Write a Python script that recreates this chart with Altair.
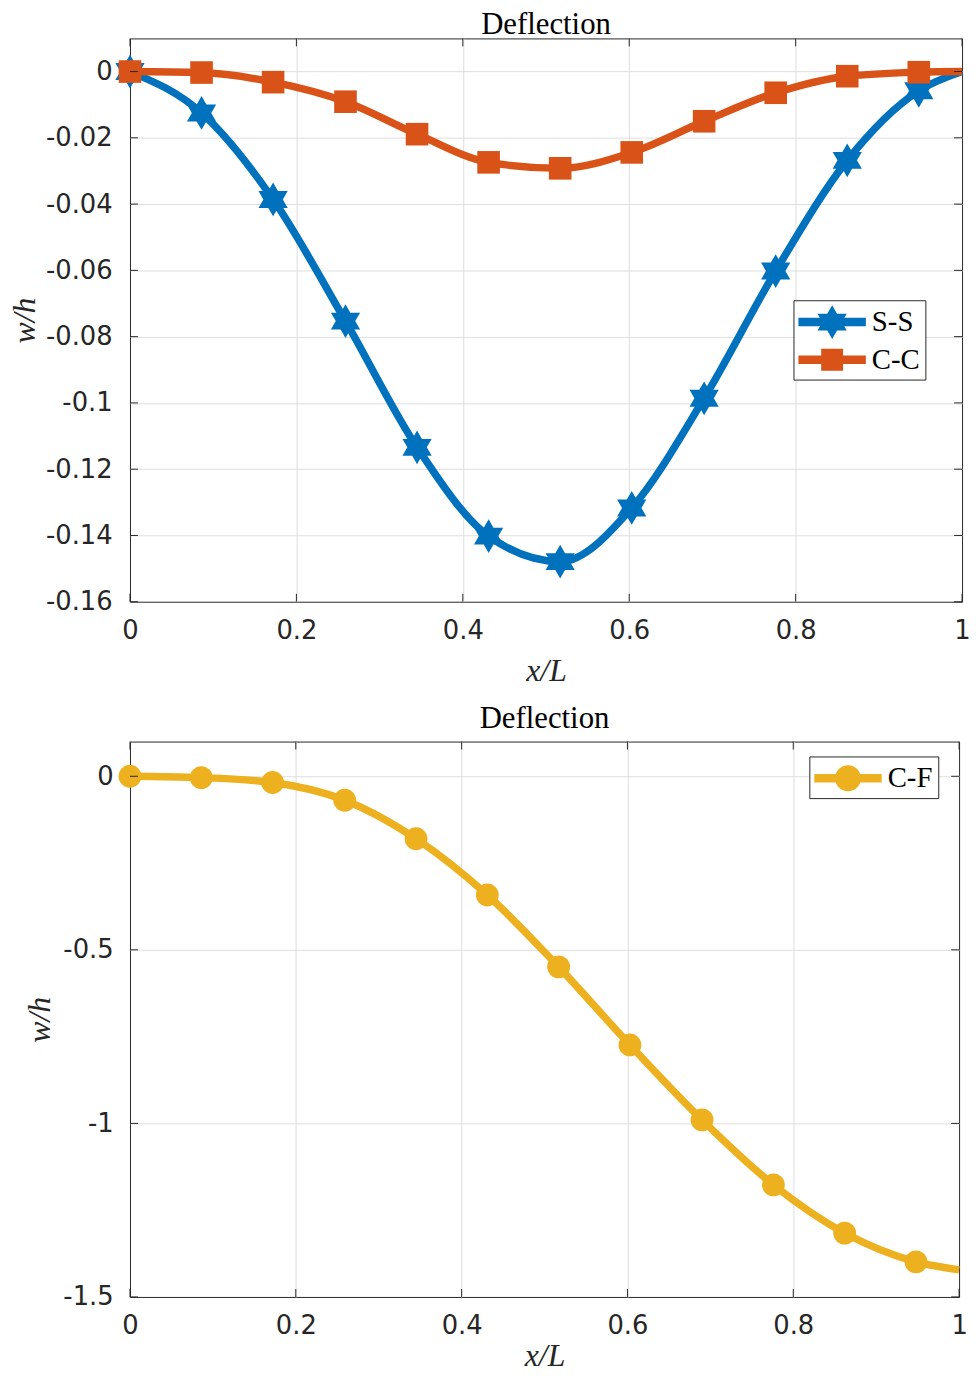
import altair as alt
import pandas as pd

BLUE = "#0072BD"
ORANGE = "#D95319"
YELLOW = "#EDB120"
AXC = "#262626"
GRID = "#dedede"

# ---- data ----
x_markers = [0.0, 0.086, 0.172, 0.259, 0.345, 0.431, 0.517, 0.603, 0.690, 0.776, 0.862, 0.948]
x_end = 1.0

ss_values = [0.0, -0.0125, -0.0386, -0.0753, -0.1134, -0.1402, -0.1479, -0.1317, -0.0986, -0.0602, -0.0268, -0.0058]
ss_end = 0.0
cc_values = [0.0, -0.0003, -0.0032, -0.0091, -0.0189, -0.0274, -0.0292, -0.0244, -0.0150, -0.0064, -0.0014, -0.0002]
cc_end = 0.0
cf_values = [0.0, -0.004, -0.018, -0.069, -0.180, -0.342, -0.549, -0.774, -0.990, -1.177, -1.316, -1.399]
cf_end = -1.422

x_ticks = [0, 0.2, 0.4, 0.6, 0.8, 1]
y_ticks_top = [-0.16, -0.14, -0.12, -0.1, -0.08, -0.06, -0.04, -0.02, 0]
y_ticks_bot = [-1.5, -1, -0.5, 0]

# ---- marker shapes (unit paths) ----
HEX = ("M0,-1L0.2887,-0.5L0.866,-0.5L0.5774,0L0.866,0.5L0.2887,0.5L0,1"
       "L-0.2887,0.5L-0.866,0.5L-0.5774,0L-0.866,-0.5L-0.2887,-0.5Z")
# legend symbols: unit = 17px, line spans -2..2
BAR = "M-2,-0.25L2,-0.25L2,0.25L-2,0.25Z"
LEG_HEX = BAR + HEX
LEG_SQ = BAR + "M-0.65,-0.65L0.65,-0.65L0.65,0.65L-0.65,0.65Z"
LEG_CIRC = BAR + "M-0.77,0A0.77,0.77 0 1,1 0.77,0A0.77,0.77 0 1,1 -0.77,0Z"


def series_df(name, values, end):
    return pd.DataFrame({"series": name, "x": x_markers + [x_end], "w": values + [end]})


def marker_df(name, values):
    return pd.DataFrame({"series": name, "x": x_markers, "w": values})


def main_axis(orient, values, title, label_pad, title_pad, hide_test):
    return alt.Axis(
        orient=orient, values=values, labelExpr="'' + datum.value",
        labelFont="DejaVu Sans", labelFontSize=26, labelColor=AXC,
        labelPadding=label_pad, labelFlush=False, labelOverlap=False,
        ticks=False, tickSize=0, domain=False,
        grid=True, gridColor=GRID, gridWidth=1,
        gridOpacity={"condition": {"test": hide_test, "value": 0}, "value": 1},
        title=title, titleFont="Liberation Serif", titleFontStyle="italic",
        titleFontWeight="normal", titleFontSize=32, titleColor=AXC,
        titlePadding=title_pad,
    )


def panel(series_list, y_domain, y_ticks, width, height, legend_xy,
          title_offset, x_title_pad, y_title_pad, y_label_pad):
    xs = alt.Scale(domain=[0, 1], nice=False, zero=False)
    ys = alt.Scale(domain=y_domain, nice=False, zero=False)
    x_main = main_axis("bottom", x_ticks, "x/L", 16, x_title_pad,
                       "datum.value == 0 || datum.value == 1")
    y_main = main_axis("left", y_ticks, "w/h", y_label_pad, y_title_pad,
                       "datum.value <= %s" % y_domain[0])
    names = [s[0] for s in series_list]
    colors = [s[1] for s in series_list]
    leg_paths = [s[4] for s in series_list]

    layers = []
    for i, (name, color, shape, size, _lp, vals, end) in enumerate(series_list):
        line = alt.Chart(series_df(name, vals, end)).mark_line(
            color=color, strokeWidth=7.5, interpolate="monotone", strokeJoin="round"
        ).encode(
            x=alt.X("x:Q", scale=xs, axis=x_main if i == 0 else None),
            y=alt.Y("w:Q", scale=ys, axis=y_main if i == 0 else None),
        )
        pts = alt.Chart(marker_df(name, vals)).mark_point(
            shape=shape, size=size, filled=True, color=color, opacity=1, strokeWidth=0
        ).encode(
            x=alt.X("x:Q", scale=xs, axis=None),
            y=alt.Y("w:Q", scale=ys, axis=None),
        )
        layers += [line, pts]

    # inward tick marks (MATLAB style) on all four sides
    xt = pd.DataFrame({"t": x_ticks})
    yt = pd.DataFrame({"t": y_ticks})
    tl = 8
    tick_layers = [
        alt.Chart(xt).mark_rule(color=AXC, strokeWidth=1).encode(
            x=alt.X("t:Q", scale=xs, axis=None), y=alt.value(height - tl), y2=alt.value(height)),
        alt.Chart(xt).mark_rule(color=AXC, strokeWidth=1).encode(
            x=alt.X("t:Q", scale=xs, axis=None), y=alt.value(0), y2=alt.value(tl)),
        alt.Chart(yt).mark_rule(color=AXC, strokeWidth=1).encode(
            y=alt.Y("t:Q", scale=ys, axis=None), x=alt.value(0), x2=alt.value(tl)),
        alt.Chart(yt).mark_rule(color=AXC, strokeWidth=1).encode(
            y=alt.Y("t:Q", scale=ys, axis=None), x=alt.value(width - tl), x2=alt.value(width)),
    ]

    null_data = alt.Data(values=[{"series": n, "x": None, "w": None} for n in names])
    leg = alt.Legend(
        title=None, orient="none", legendX=legend_xy[0], legendY=legend_xy[1],
        direction="vertical", fillColor="white", strokeColor=AXC, padding=5,
        labelFont="Liberation Serif", labelFontSize=29, labelColor="black",
        symbolSize=1156, symbolOffset=17, labelOffset=23,
        symbolStrokeWidth=0, symbolOpacity=1, rowPadding=4, labelLimit=300,
    )
    legend_layer = alt.Chart(null_data).mark_point(filled=True, opacity=1).encode(
        x=alt.X("x:Q", scale=xs, axis=None),
        y=alt.Y("w:Q", scale=ys, axis=None),
        color=alt.Color("series:N", scale=alt.Scale(domain=names, range=colors), legend=leg),
        shape=alt.Shape("series:N", scale=alt.Scale(domain=names, range=leg_paths), legend=leg),
    )
    return alt.layer(*layers, *tick_layers, legend_layer).resolve_axis(
        x="independent", y="independent"
    ).properties(
        width=width, height=height,
        title=alt.TitleParams(
            text="Deflection", font="Liberation Serif", fontSize=31,
            fontWeight="normal", color="black", anchor="middle", frame="group",
            baseline="alphabetic", offset=title_offset,
        ),
    )


top = panel(
    [("S-S", BLUE, HEX, 1156, LEG_HEX, ss_values, ss_end),
     ("C-C", ORANGE, "square", 520, LEG_SQ, cc_values, cc_end)],
    [-0.16, 0.01], y_ticks_top, 839, 568, (669, 264),
    title_offset=-27, x_title_pad=12, y_title_pad=4, y_label_pad=18,
)

bottom = panel(
    [("C-F", YELLOW, "circle", 530, LEG_CIRC, cf_values, cf_end)],
    [-1.5, 0.1], y_ticks_bot, 836, 560, (685, 15),
    title_offset=-18, x_title_pad=2, y_title_pad=6, y_label_pad=17,
)

chart = alt.vconcat(top, bottom, spacing=16).resolve_scale(
    color="independent", shape="independent"
).resolve_legend(
    color="independent", shape="independent"
).properties(
    padding={"top": -5, "left": 0, "right": -1, "bottom": -6},
    background="white",
).configure_view(stroke=AXC, strokeWidth=1)

chart.save("out.html", embed_options={"renderer": "svg", "actions": False})
